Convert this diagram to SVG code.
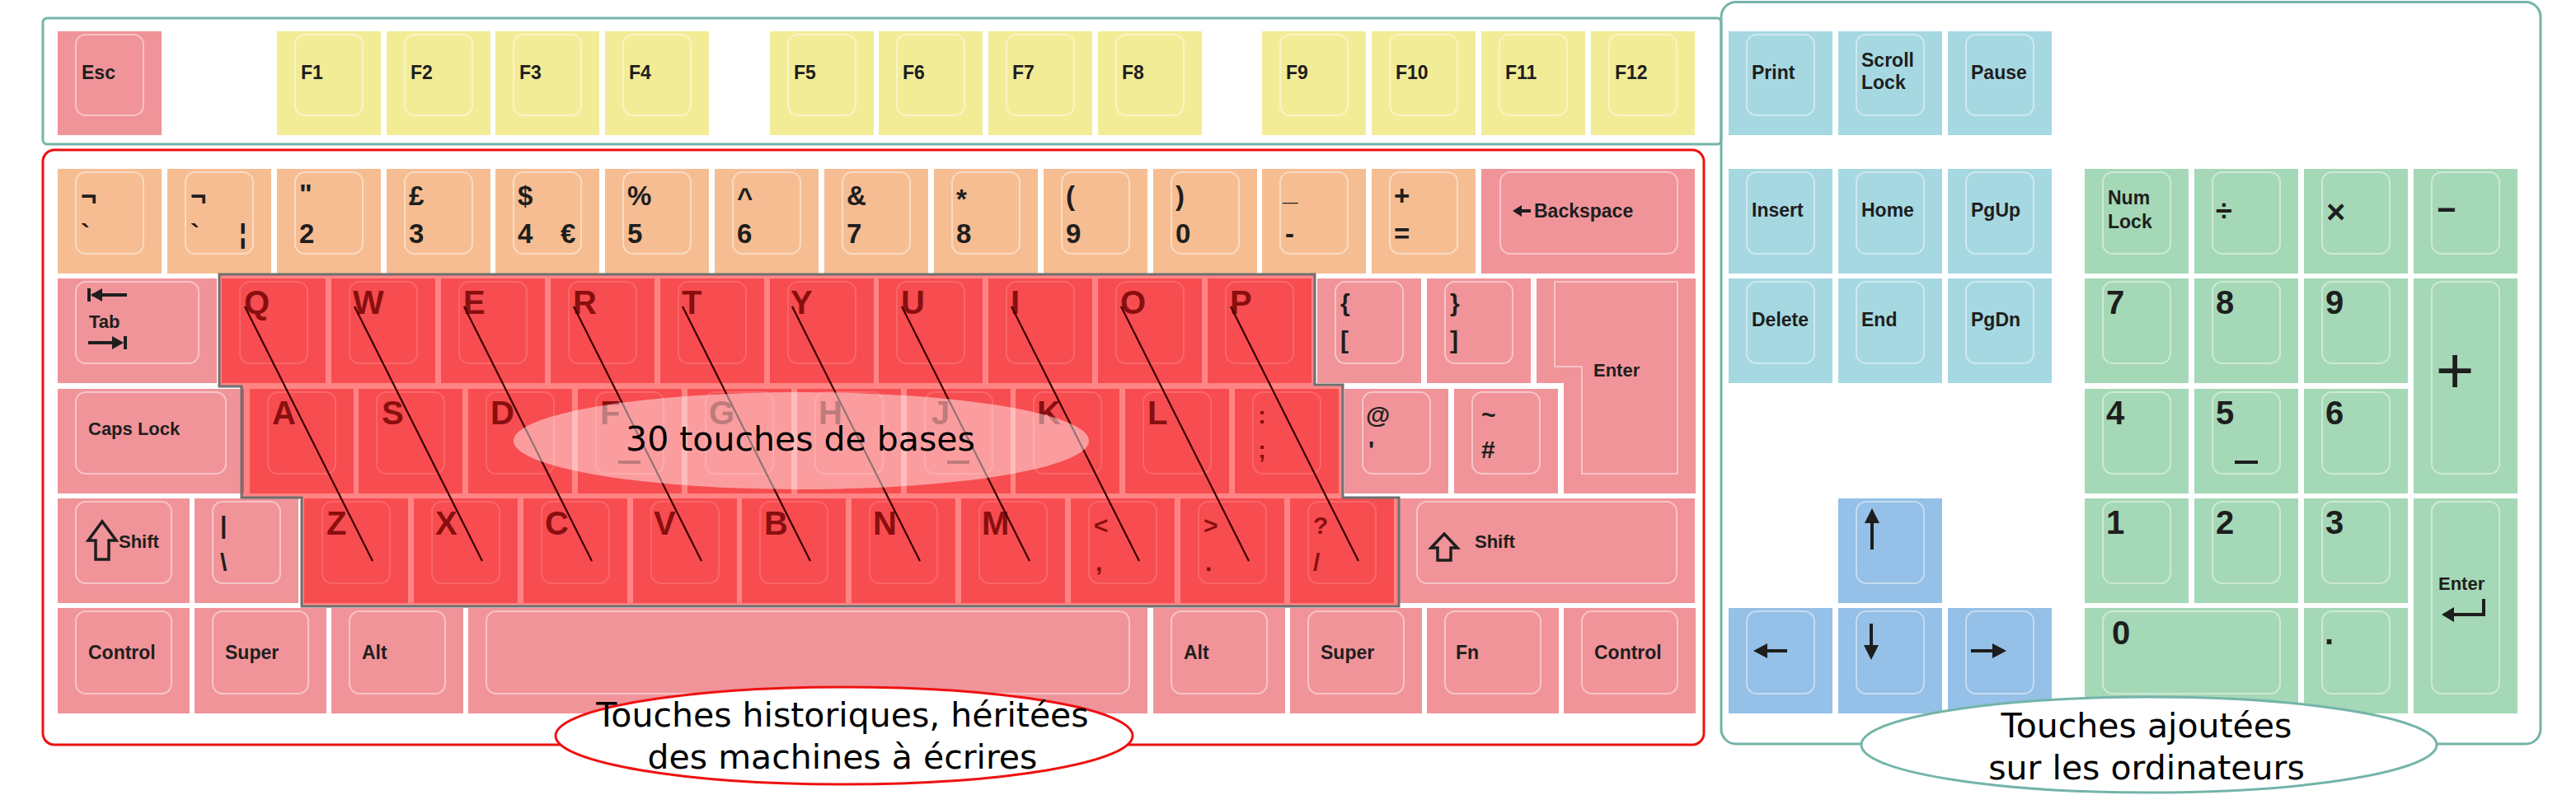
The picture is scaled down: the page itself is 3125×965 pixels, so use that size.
<svg xmlns="http://www.w3.org/2000/svg" width="3125" height="965" viewBox="0 0 3125 965">
<style>
.pk{fill:#f0949a}
.yl{fill:#f3ec97}
.or{fill:#f6bd92}
.bl{fill:#a6d8e2}
.ar{fill:#95c0e7}
.gr{fill:#a5d8b6}
.cap{fill:none;stroke:#fff;stroke-opacity:.45;stroke-width:2;stroke-linejoin:round}
.t{font-family:"Liberation Sans",Arial,sans-serif;font-weight:bold;font-size:23px;fill:#1e1e1e}
.w{font-size:22px}
.s{font-size:30px}
.n{font-size:33px}
.L{font-size:40px}
.plus{font-family:"Liberation Sans",Arial,sans-serif;font-weight:normal;font-size:80px;fill:#1e1e1e;text-anchor:middle}
.ic{fill:none;stroke:#1e1e1e;stroke-width:4}
.ic3{fill:none;stroke:#1e1e1e;stroke-width:3.5;stroke-linejoin:miter}
.icf{fill:#1e1e1e}
.mk{stroke:#1e1e1e;stroke-width:4}
.ft{fill:none;stroke:#74b4a9;stroke-width:3}
.fr{fill:none;stroke:#ee1111;stroke-width:3}
.lbl{font-family:"DejaVu Sans",sans-serif;font-size:41px;fill:#000;text-anchor:middle}
#connectors line{stroke:#3a0000;stroke-width:2.2}
</style>
<rect width="3125" height="965" fill="#fff"/>
<g id="frames">
<rect class="ft" x="52" y="22" width="2036" height="153" rx="5"/>
<rect class="ft" x="2088" y="2.5" width="994" height="900.5" rx="18"/>
<rect class="fr" x="52" y="182" width="2015" height="722" rx="14"/>
</g>

<!-- Function row -->
<g id="key-esc"><rect class="pk" x="70" y="38" width="126" height="126"/><rect class="cap" x="92" y="42" width="82" height="98" rx="12"/><text class="t" x="99" y="96">Esc</text></g>
<g id="key-f1"><rect class="yl" x="336" y="38" width="126" height="126"/><rect class="cap" x="358" y="42" width="82" height="98" rx="12"/><text class="t" x="365" y="96">F1</text></g>
<g id="key-f2"><rect class="yl" x="469" y="38" width="126" height="126"/><rect class="cap" x="491" y="42" width="82" height="98" rx="12"/><text class="t" x="498" y="96">F2</text></g>
<g id="key-f3"><rect class="yl" x="601" y="38" width="126" height="126"/><rect class="cap" x="623" y="42" width="82" height="98" rx="12"/><text class="t" x="630" y="96">F3</text></g>
<g id="key-f4"><rect class="yl" x="734" y="38" width="126" height="126"/><rect class="cap" x="756" y="42" width="82" height="98" rx="12"/><text class="t" x="763" y="96">F4</text></g>
<g id="key-f5"><rect class="yl" x="934" y="38" width="126" height="126"/><rect class="cap" x="956" y="42" width="82" height="98" rx="12"/><text class="t" x="963" y="96">F5</text></g>
<g id="key-f6"><rect class="yl" x="1066" y="38" width="126" height="126"/><rect class="cap" x="1088" y="42" width="82" height="98" rx="12"/><text class="t" x="1095" y="96">F6</text></g>
<g id="key-f7"><rect class="yl" x="1199" y="38" width="126" height="126"/><rect class="cap" x="1221" y="42" width="82" height="98" rx="12"/><text class="t" x="1228" y="96">F7</text></g>
<g id="key-f8"><rect class="yl" x="1332" y="38" width="126" height="126"/><rect class="cap" x="1354" y="42" width="82" height="98" rx="12"/><text class="t" x="1361" y="96">F8</text></g>
<g id="key-f9"><rect class="yl" x="1531" y="38" width="126" height="126"/><rect class="cap" x="1553" y="42" width="82" height="98" rx="12"/><text class="t" x="1560" y="96">F9</text></g>
<g id="key-f10"><rect class="yl" x="1664" y="38" width="126" height="126"/><rect class="cap" x="1686" y="42" width="82" height="98" rx="12"/><text class="t" x="1693" y="96">F10</text></g>
<g id="key-f11"><rect class="yl" x="1797" y="38" width="126" height="126"/><rect class="cap" x="1819" y="42" width="82" height="98" rx="12"/><text class="t" x="1826" y="96">F11</text></g>
<g id="key-f12"><rect class="yl" x="1930" y="38" width="126" height="126"/><rect class="cap" x="1952" y="42" width="82" height="98" rx="12"/><text class="t" x="1959" y="96">F12</text></g>
<g id="key-print"><rect class="bl" x="2097" y="38" width="126" height="126"/><rect class="cap" x="2119" y="42" width="82" height="98" rx="12"/><text class="t" x="2125" y="96">Print</text></g>
<g id="key-scrolllock"><rect class="bl" x="2230" y="38" width="126" height="126"/><rect class="cap" x="2252" y="42" width="82" height="98" rx="12"/><text class="t" x="2258" y="81">Scroll</text><text class="t" x="2258" y="108">Lock</text></g>
<g id="key-pause"><rect class="bl" x="2363" y="38" width="126" height="126"/><rect class="cap" x="2385" y="42" width="82" height="98" rx="12"/><text class="t" x="2391" y="96">Pause</text></g>

<!-- Number row -->
<g id="key-grave"><rect class="or" x="70" y="205" width="126" height="127"/><rect class="cap" x="92" y="209" width="82" height="99" rx="12"/><text class="t n" x="98" y="249">¬</text><text class="t n" x="98" y="295">`</text></g>
<g id="key-1"><rect class="or" x="203" y="205" width="126" height="127"/><rect class="cap" x="225" y="209" width="82" height="99" rx="12"/><text class="t n" x="231" y="249">¬</text><text class="t n" x="231" y="295">`</text><text class="t n" x="290" y="295">¦</text></g>
<g id="key-2"><rect class="or" x="336" y="205" width="126" height="127"/><rect class="cap" x="358" y="209" width="82" height="99" rx="12"/><text class="t n" x="363" y="247">"</text><text class="t n" x="363" y="295">2</text></g>
<g id="key-3"><rect class="or" x="469" y="205" width="126" height="127"/><rect class="cap" x="491" y="209" width="82" height="99" rx="12"/><text class="t n" x="496" y="249">£</text><text class="t n" x="496" y="295">3</text></g>
<g id="key-4"><rect class="or" x="601" y="205" width="126" height="127"/><rect class="cap" x="623" y="209" width="82" height="99" rx="12"/><text class="t n" x="628" y="249">$</text><text class="t n" x="628" y="295">4</text><text class="t n" x="680" y="295">€</text></g>
<g id="key-5"><rect class="or" x="734" y="205" width="126" height="127"/><rect class="cap" x="756" y="209" width="82" height="99" rx="12"/><text class="t n" x="761" y="249">%</text><text class="t n" x="761" y="295">5</text></g>
<g id="key-6"><rect class="or" x="867" y="205" width="126" height="127"/><rect class="cap" x="889" y="209" width="82" height="99" rx="12"/><text class="t n" x="894" y="251">^</text><text class="t n" x="894" y="295">6</text></g>
<g id="key-7"><rect class="or" x="1000" y="205" width="126" height="127"/><rect class="cap" x="1022" y="209" width="82" height="99" rx="12"/><text class="t n" x="1027" y="249">&amp;</text><text class="t n" x="1027" y="295">7</text></g>
<g id="key-8"><rect class="or" x="1133" y="205" width="126" height="127"/><rect class="cap" x="1155" y="209" width="82" height="99" rx="12"/><text class="t n" x="1160" y="253">*</text><text class="t n" x="1160" y="295">8</text></g>
<g id="key-9"><rect class="or" x="1266" y="205" width="126" height="127"/><rect class="cap" x="1288" y="209" width="82" height="99" rx="12"/><text class="t n" x="1293" y="249">(</text><text class="t n" x="1293" y="295">9</text></g>
<g id="key-0"><rect class="or" x="1399" y="205" width="126" height="127"/><rect class="cap" x="1421" y="209" width="82" height="99" rx="12"/><text class="t n" x="1426" y="249">)</text><text class="t n" x="1426" y="295">0</text></g>
<g id="key-minus"><rect class="or" x="1531" y="205" width="126" height="127"/><rect class="cap" x="1553" y="209" width="82" height="99" rx="12"/><text class="t n" x="1556" y="243">_</text><text class="t n" x="1559" y="295">-</text></g>
<g id="key-equal"><rect class="or" x="1664" y="205" width="126" height="127"/><rect class="cap" x="1686" y="209" width="82" height="99" rx="12"/><text class="t n" x="1691" y="249">+</text><text class="t n" x="1691" y="295">=</text></g>
<g id="key-backspace"><rect class="pk" x="1797" y="205" width="259" height="127"/><rect class="cap" x="1820" y="209" width="215" height="99" rx="12"/><path class="icf" d="M1835,256 L1846,249 L1846,263 Z"/><line class="mk" x1="1844" y1="256" x2="1857" y2="256"/><text class="t" x="1861" y="264">Backspace</text></g>

<!-- Tab row -->
<g id="key-tab"><rect class="pk" x="70" y="338" width="193" height="127"/><rect class="cap" x="92" y="342" width="149" height="99" rx="12"/><path class="ic" d="M108,350 V366 M112,358 H154"/><path class="icf" d="M110,358 L124,350 L124,366 Z"/><path class="ic" d="M152,408 V424 M107,416 H146"/><path class="icf" d="M150,416 L136,408 L136,424 Z"/><text class="t w" x="108" y="398">Tab</text></g>
<g id="key-q"><rect class="pk" x="269" y="338" width="126" height="127"/><rect class="cap" x="291" y="342" width="82" height="99" rx="12"/><text class="t L" x="296" y="381">Q</text></g>
<g id="key-w"><rect class="pk" x="402" y="338" width="126" height="127"/><rect class="cap" x="424" y="342" width="82" height="99" rx="12"/><text class="t L" x="428" y="381">W</text></g>
<g id="key-e"><rect class="pk" x="535" y="338" width="126" height="127"/><rect class="cap" x="557" y="342" width="82" height="99" rx="12"/><text class="t L" x="562" y="381">E</text></g>
<g id="key-r"><rect class="pk" x="668" y="338" width="126" height="127"/><rect class="cap" x="690" y="342" width="82" height="99" rx="12"/><text class="t L" x="695" y="381">R</text></g>
<g id="key-t"><rect class="pk" x="801" y="338" width="126" height="127"/><rect class="cap" x="823" y="342" width="82" height="99" rx="12"/><text class="t L" x="827" y="381">T</text></g>
<g id="key-y"><rect class="pk" x="934" y="338" width="126" height="127"/><rect class="cap" x="956" y="342" width="82" height="99" rx="12"/><text class="t L" x="959" y="381">Y</text></g>
<g id="key-u"><rect class="pk" x="1066" y="338" width="126" height="127"/><rect class="cap" x="1088" y="342" width="82" height="99" rx="12"/><text class="t L" x="1093" y="381">U</text></g>
<g id="key-i"><rect class="pk" x="1199" y="338" width="126" height="127"/><rect class="cap" x="1221" y="342" width="82" height="99" rx="12"/><text class="t L" x="1226" y="381">I</text></g>
<g id="key-o"><rect class="pk" x="1332" y="338" width="126" height="127"/><rect class="cap" x="1354" y="342" width="82" height="99" rx="12"/><text class="t L" x="1359" y="381">O</text></g>
<g id="key-p"><rect class="pk" x="1465" y="338" width="126" height="127"/><rect class="cap" x="1487" y="342" width="82" height="99" rx="12"/><text class="t L" x="1492" y="381">P</text></g>
<g id="key-lbracket"><rect class="pk" x="1598" y="338" width="126" height="127"/><rect class="cap" x="1620" y="342" width="82" height="99" rx="12"/><text class="t s" x="1626" y="378">{</text><text class="t s" x="1626" y="423">[</text></g>
<g id="key-rbracket"><rect class="pk" x="1731" y="338" width="126" height="127"/><rect class="cap" x="1753" y="342" width="82" height="99" rx="12"/><text class="t s" x="1759" y="378">}</text><text class="t s" x="1759" y="423">]</text></g>
<g id="key-enter"><path class="pk" d="M1864,338 H2057 V599 H1897 V465 H1864 Z"/><path class="cap" d="M1886,342 H2035 V575 H1919 V445 H1886 Z"/><text class="t w" x="1933" y="457">Enter</text></g>

<!-- Caps row -->
<g id="key-capslock"><rect class="pk" x="70" y="472" width="226" height="127"/><rect class="cap" x="92" y="476" width="182" height="99" rx="12"/><text class="t w" x="107" y="528">Caps Lock</text></g>
<g id="key-a"><rect class="pk" x="303" y="472" width="126" height="127"/><rect class="cap" x="325" y="476" width="82" height="99" rx="12"/><text class="t L" x="330" y="515">A</text></g>
<g id="key-s"><rect class="pk" x="435" y="472" width="126" height="127"/><rect class="cap" x="457" y="476" width="82" height="99" rx="12"/><text class="t L" x="463" y="515">S</text></g>
<g id="key-d"><rect class="pk" x="568" y="472" width="126" height="127"/><rect class="cap" x="590" y="476" width="82" height="99" rx="12"/><text class="t L" x="595" y="515">D</text></g>
<g id="key-f"><rect class="pk" x="701" y="472" width="126" height="127"/><rect class="cap" x="723" y="476" width="82" height="99" rx="12"/><text class="t L" x="728" y="515">F</text><line class="mk" x1="750" y1="561" x2="777" y2="561"/></g>
<g id="key-g"><rect class="pk" x="834" y="472" width="126" height="127"/><rect class="cap" x="856" y="476" width="82" height="99" rx="12"/><text class="t L" x="860" y="515">G</text></g>
<g id="key-h"><rect class="pk" x="967" y="472" width="126" height="127"/><rect class="cap" x="989" y="476" width="82" height="99" rx="12"/><text class="t L" x="993" y="515">H</text></g>
<g id="key-j"><rect class="pk" x="1100" y="472" width="126" height="127"/><rect class="cap" x="1122" y="476" width="82" height="99" rx="12"/><text class="t L" x="1130" y="515">J</text><line class="mk" x1="1149" y1="561" x2="1176" y2="561"/></g>
<g id="key-k"><rect class="pk" x="1232" y="472" width="126" height="127"/><rect class="cap" x="1254" y="476" width="82" height="99" rx="12"/><text class="t L" x="1258" y="515">K</text></g>
<g id="key-l"><rect class="pk" x="1365" y="472" width="126" height="127"/><rect class="cap" x="1387" y="476" width="82" height="99" rx="12"/><text class="t L" x="1392" y="515">L</text></g>
<g id="key-semicolon"><rect class="pk" x="1498" y="472" width="126" height="127"/><rect class="cap" x="1520" y="476" width="82" height="99" rx="12"/><text class="t s" x="1526" y="514">:</text><text class="t s" x="1526" y="556">;</text></g>
<g id="key-quote"><rect class="pk" x="1631" y="472" width="126" height="127"/><rect class="cap" x="1653" y="476" width="82" height="99" rx="12"/><text class="t s" x="1657" y="514">@</text><text class="t s" x="1660" y="556">'</text></g>
<g id="key-hash"><rect class="pk" x="1764" y="472" width="126" height="127"/><rect class="cap" x="1786" y="476" width="82" height="99" rx="12"/><text class="t s" x="1797" y="514">~</text><text class="t s" x="1797" y="556">#</text></g>

<!-- Shift row -->
<g id="key-lshift"><rect class="pk" x="70" y="605" width="160" height="127"/><rect class="cap" x="92" y="609" width="116" height="99" rx="12"/><path class="ic3" d="M124,633 L141,656 L132,656 L132,679 L116,679 L116,656 L107,656 Z"/><text class="t w" x="144" y="665">Shift</text></g>
<g id="key-backslash"><rect class="pk" x="236" y="605" width="126" height="127"/><rect class="cap" x="258" y="609" width="82" height="99" rx="12"/><text class="t s" x="267" y="648">|</text><text class="t s" x="267" y="693">\</text></g>
<g id="key-z"><rect class="pk" x="369" y="605" width="126" height="127"/><rect class="cap" x="391" y="609" width="82" height="99" rx="12"/><text class="t L" x="396" y="649">Z</text></g>
<g id="key-x"><rect class="pk" x="502" y="605" width="126" height="127"/><rect class="cap" x="524" y="609" width="82" height="99" rx="12"/><text class="t L" x="528" y="649">X</text></g>
<g id="key-c"><rect class="pk" x="635" y="605" width="126" height="127"/><rect class="cap" x="657" y="609" width="82" height="99" rx="12"/><text class="t L" x="661" y="649">C</text></g>
<g id="key-v"><rect class="pk" x="768" y="605" width="126" height="127"/><rect class="cap" x="790" y="609" width="82" height="99" rx="12"/><text class="t L" x="793" y="649">V</text></g>
<g id="key-b"><rect class="pk" x="900" y="605" width="126" height="127"/><rect class="cap" x="922" y="609" width="82" height="99" rx="12"/><text class="t L" x="927" y="649">B</text></g>
<g id="key-n"><rect class="pk" x="1033" y="605" width="126" height="127"/><rect class="cap" x="1055" y="609" width="82" height="99" rx="12"/><text class="t L" x="1059" y="649">N</text></g>
<g id="key-m"><rect class="pk" x="1166" y="605" width="126" height="127"/><rect class="cap" x="1188" y="609" width="82" height="99" rx="12"/><text class="t L" x="1191" y="649">M</text></g>
<g id="key-comma"><rect class="pk" x="1299" y="605" width="126" height="127"/><rect class="cap" x="1321" y="609" width="82" height="99" rx="12"/><text class="t s" x="1327" y="648">&lt;</text><text class="t s" x="1329" y="693">,</text></g>
<g id="key-period"><rect class="pk" x="1432" y="605" width="126" height="127"/><rect class="cap" x="1454" y="609" width="82" height="99" rx="12"/><text class="t s" x="1460" y="648">&gt;</text><text class="t s" x="1462" y="693">.</text></g>
<g id="key-slash"><rect class="pk" x="1565" y="605" width="126" height="127"/><rect class="cap" x="1587" y="609" width="82" height="99" rx="12"/><text class="t s" x="1593" y="648">?</text><text class="t s" x="1593" y="693">/</text></g>
<g id="key-rshift"><rect class="pk" x="1697" y="605" width="359" height="127"/><rect class="cap" x="1719" y="609" width="315" height="99" rx="12"/><path class="ic3" d="M1752,648 L1768,665 L1760,665 L1760,680 L1744,680 L1744,665 L1736,665 Z"/><text class="t w" x="1789" y="665">Shift</text></g>

<!-- Bottom row -->
<g id="key-lcontrol"><rect class="pk" x="70" y="738" width="160" height="128"/><rect class="cap" x="92" y="742" width="116" height="100" rx="12"/><text class="t" x="107" y="800">Control</text></g>
<g id="key-lsuper"><rect class="pk" x="236" y="738" width="160" height="128"/><rect class="cap" x="258" y="742" width="116" height="100" rx="12"/><text class="t" x="273" y="800">Super</text></g>
<g id="key-lalt"><rect class="pk" x="402" y="738" width="160" height="128"/><rect class="cap" x="424" y="742" width="116" height="100" rx="12"/><text class="t" x="439" y="800">Alt</text></g>
<g id="key-space"><rect class="pk" x="568" y="738" width="824" height="128"/><rect class="cap" x="590" y="742" width="780" height="100" rx="12"/></g>
<g id="key-ralt"><rect class="pk" x="1399" y="738" width="160" height="128"/><rect class="cap" x="1421" y="742" width="116" height="100" rx="12"/><text class="t" x="1436" y="800">Alt</text></g>
<g id="key-rsuper"><rect class="pk" x="1565" y="738" width="160" height="128"/><rect class="cap" x="1587" y="742" width="116" height="100" rx="12"/><text class="t" x="1602" y="800">Super</text></g>
<g id="key-fn"><rect class="pk" x="1731" y="738" width="160" height="128"/><rect class="cap" x="1753" y="742" width="116" height="100" rx="12"/><text class="t" x="1766" y="800">Fn</text></g>
<g id="key-rcontrol"><rect class="pk" x="1897" y="738" width="160" height="128"/><rect class="cap" x="1919" y="742" width="116" height="100" rx="12"/><text class="t" x="1934" y="800">Control</text></g>

<!-- Navigation cluster -->
<g id="key-insert"><rect class="bl" x="2097" y="205" width="126" height="127"/><rect class="cap" x="2119" y="209" width="82" height="99" rx="12"/><text class="t" x="2125" y="263">Insert</text></g>
<g id="key-home"><rect class="bl" x="2230" y="205" width="126" height="127"/><rect class="cap" x="2252" y="209" width="82" height="99" rx="12"/><text class="t" x="2258" y="263">Home</text></g>
<g id="key-pgup"><rect class="bl" x="2363" y="205" width="126" height="127"/><rect class="cap" x="2385" y="209" width="82" height="99" rx="12"/><text class="t" x="2391" y="263">PgUp</text></g>
<g id="key-delete"><rect class="bl" x="2097" y="338" width="126" height="127"/><rect class="cap" x="2119" y="342" width="82" height="99" rx="12"/><text class="t" x="2125" y="396">Delete</text></g>
<g id="key-end"><rect class="bl" x="2230" y="338" width="126" height="127"/><rect class="cap" x="2252" y="342" width="82" height="99" rx="12"/><text class="t" x="2258" y="396">End</text></g>
<g id="key-pgdn"><rect class="bl" x="2363" y="338" width="126" height="127"/><rect class="cap" x="2385" y="342" width="82" height="99" rx="12"/><text class="t" x="2391" y="396">PgDn</text></g>
<g id="key-up"><rect class="ar" x="2230" y="605" width="126" height="127"/><rect class="cap" x="2252" y="609" width="82" height="99" rx="12"/><line class="ic" x1="2271" y1="628" x2="2271" y2="667"/><path class="icf" d="M2262,635 L2271,617 L2280,635 Z"/></g>
<g id="key-left"><rect class="ar" x="2097" y="738" width="126" height="128"/><rect class="cap" x="2119" y="742" width="82" height="100" rx="12"/><line class="ic" x1="2138" y1="790" x2="2168" y2="790"/><path class="icf" d="M2127,790 L2144,781 L2144,799 Z"/></g>
<g id="key-down"><rect class="ar" x="2230" y="738" width="126" height="128"/><rect class="cap" x="2252" y="742" width="82" height="100" rx="12"/><line class="ic" x1="2270" y1="757" x2="2270" y2="790"/><path class="icf" d="M2261,783 L2270,801 L2279,783 Z"/></g>
<g id="key-right"><rect class="ar" x="2363" y="738" width="126" height="128"/><rect class="cap" x="2385" y="742" width="82" height="100" rx="12"/><line class="ic" x1="2391" y1="790" x2="2423" y2="790"/><path class="icf" d="M2434,790 L2417,781 L2417,799 Z"/></g>

<!-- Numeric keypad -->
<g id="key-numlock"><rect class="gr" x="2529" y="205" width="126" height="127"/><rect class="cap" x="2551" y="209" width="82" height="99" rx="12"/><text class="t" x="2557" y="248">Num</text><text class="t" x="2557" y="277">Lock</text></g>
<g id="key-divide"><rect class="gr" x="2662" y="205" width="126" height="127"/><rect class="cap" x="2684" y="209" width="82" height="99" rx="12"/><text class="t" x="2688" y="268" style="font-size:36px">÷</text></g>
<g id="key-multiply"><rect class="gr" x="2795" y="205" width="126" height="127"/><rect class="cap" x="2817" y="209" width="82" height="99" rx="12"/><text class="t L" x="2822" y="271">×</text></g>
<g id="key-subtract"><rect class="gr" x="2928" y="205" width="126" height="127"/><rect class="cap" x="2950" y="209" width="82" height="99" rx="12"/><text class="t L" x="2956" y="268">−</text></g>
<g id="key-num7"><rect class="gr" x="2529" y="338" width="126" height="127"/><rect class="cap" x="2551" y="342" width="82" height="99" rx="12"/><text class="t L" x="2555" y="381">7</text></g>
<g id="key-num8"><rect class="gr" x="2662" y="338" width="126" height="127"/><rect class="cap" x="2684" y="342" width="82" height="99" rx="12"/><text class="t L" x="2688" y="381">8</text></g>
<g id="key-num9"><rect class="gr" x="2795" y="338" width="126" height="127"/><rect class="cap" x="2817" y="342" width="82" height="99" rx="12"/><text class="t L" x="2821" y="381">9</text></g>
<g id="key-add"><rect class="gr" x="2928" y="338" width="126" height="261"/><rect class="cap" x="2950" y="342" width="82" height="233" rx="12"/><text class="plus" x="2978" y="477">+</text></g>
<g id="key-num4"><rect class="gr" x="2529" y="472" width="126" height="127"/><rect class="cap" x="2551" y="476" width="82" height="99" rx="12"/><text class="t L" x="2555" y="515">4</text></g>
<g id="key-num5"><rect class="gr" x="2662" y="472" width="126" height="127"/><rect class="cap" x="2684" y="476" width="82" height="99" rx="12"/><text class="t L" x="2688" y="515">5</text><line class="mk" x1="2711" y1="561" x2="2739" y2="561"/></g>
<g id="key-num6"><rect class="gr" x="2795" y="472" width="126" height="127"/><rect class="cap" x="2817" y="476" width="82" height="99" rx="12"/><text class="t L" x="2821" y="515">6</text></g>
<g id="key-num1"><rect class="gr" x="2529" y="605" width="126" height="127"/><rect class="cap" x="2551" y="609" width="82" height="99" rx="12"/><text class="t L" x="2555" y="648">1</text></g>
<g id="key-num2"><rect class="gr" x="2662" y="605" width="126" height="127"/><rect class="cap" x="2684" y="609" width="82" height="99" rx="12"/><text class="t L" x="2688" y="648">2</text></g>
<g id="key-num3"><rect class="gr" x="2795" y="605" width="126" height="127"/><rect class="cap" x="2817" y="609" width="82" height="99" rx="12"/><text class="t L" x="2821" y="648">3</text></g>
<g id="key-numenter"><rect class="gr" x="2928" y="605" width="126" height="261"/><rect class="cap" x="2950" y="609" width="82" height="233" rx="12"/><text class="t w" x="2958" y="716">Enter</text><path class="ic" d="M3013,727 V746 H2972"/><path class="icf" d="M2962,746 L2977,737 L2977,755 Z"/></g>
<g id="key-num0"><rect class="gr" x="2529" y="738" width="259" height="128"/><rect class="cap" x="2551" y="742" width="215" height="100" rx="12"/><text class="t L" x="2562" y="782">0</text></g>
<g id="key-decimal"><rect class="gr" x="2795" y="738" width="126" height="128"/><rect class="cap" x="2817" y="742" width="82" height="100" rx="12"/><text class="t L" x="2820" y="782">.</text></g>

<!-- 30 base keys zone -->
<g id="zone-30">
<path d="M266,333 H1595 V467 H1629 V604 H1697 V736 H366 V604 H293 V469 H266 Z" fill="#ff0000" fill-opacity="0.48" stroke="#6e7070" stroke-width="3"/>
</g>
<g id="connectors">
<line x1="297" y1="372" x2="452" y2="681"/>
<line x1="430" y1="372" x2="585" y2="681"/>
<line x1="563" y1="372" x2="718" y2="681"/>
<line x1="696" y1="372" x2="851" y2="681"/>
<line x1="828" y1="372" x2="983" y2="681"/>
<line x1="961" y1="372" x2="1116" y2="681"/>
<line x1="1094" y1="372" x2="1249" y2="681"/>
<line x1="1227" y1="372" x2="1382" y2="681"/>
<line x1="1360" y1="372" x2="1515" y2="681"/>
<line x1="1493" y1="372" x2="1648" y2="681"/>
</g>
<g id="label-30">
<ellipse cx="972" cy="535" rx="349" ry="59" fill="#fff" fill-opacity="0.45"/>
<text class="lbl" x="971" y="547">30 touches de bases</text>
</g>
<g id="label-historiques">
<ellipse cx="1024" cy="893" rx="350" ry="59" fill="#fff" stroke="#ee1111" stroke-width="3"/>
<text class="lbl" x="1022" y="882">Touches historiques, héritées</text>
<text class="lbl" x="1022" y="933">des machines à écrires</text>
</g>
<g id="label-ajoutees">
<ellipse cx="2607" cy="904" rx="349" ry="58" fill="#fff" stroke="#74b4a9" stroke-width="3"/>
<text class="lbl" x="2604" y="895">Touches ajoutées</text>
<text class="lbl" x="2604" y="946">sur les ordinateurs</text>
</g>
</svg>
